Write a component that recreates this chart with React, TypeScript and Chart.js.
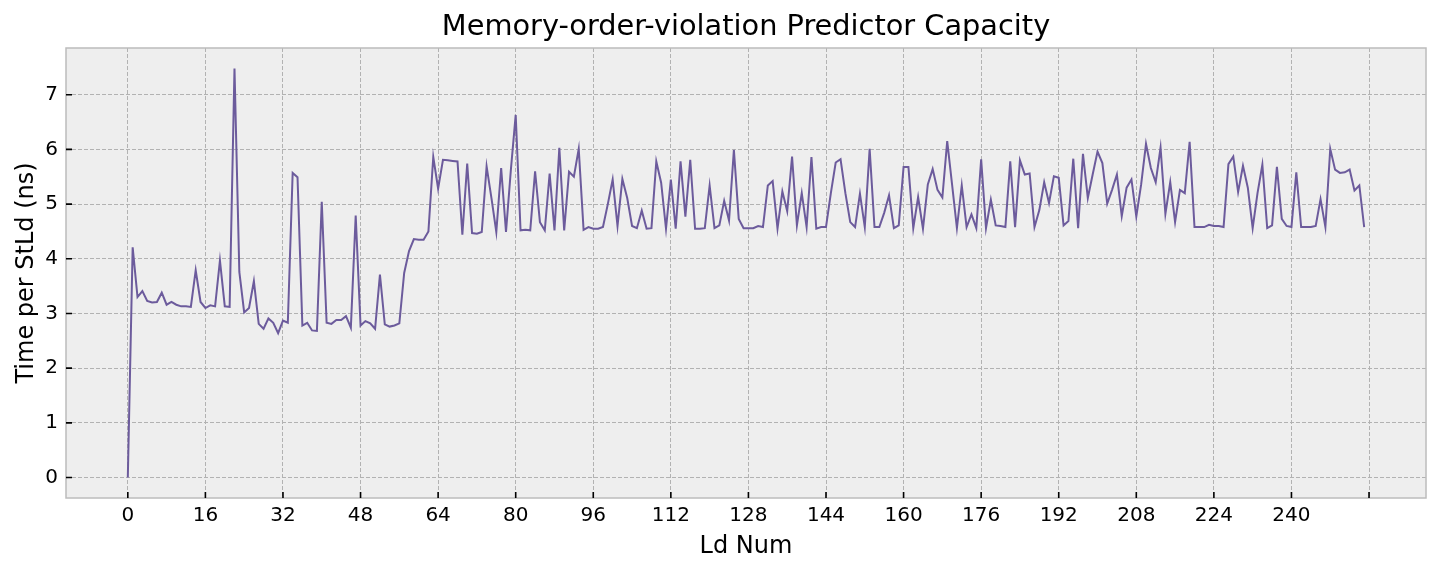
import React, { useEffect, useRef } from "react";
import { Chart, registerables } from "chart.js";

Chart.register(...registerables);

const TITLE = "Memory-order-violation Predictor Capacity";
const X_LABEL = "Ld Num";
const Y_LABEL = "Time per StLd (ns)";

const xTickValues = [0, 16, 32, 48, 64, 80, 96, 112, 128, 144, 160, 176, 192, 208, 224, 240, 256];
const xTickLabels = ["0", "16", "32", "48", "64", "80", "96", "112", "128", "144", "160", "176", "192", "208", "224", "240", ""];
const yTickValues = [0, 1, 2, 3, 4, 5, 6, 7];

// Ld 0..63
const timesA = [
  0, 4.21, 3.3, 3.41, 3.23, 3.2, 3.21, 3.38, 3.16, 3.21, 3.16, 3.13, 3.13, 3.12, 3.79, 3.21,
  3.1, 3.15, 3.13, 3.97, 3.13, 3.12, 7.48, 3.76, 3.02, 3.1, 3.59, 2.81, 2.72, 2.91, 2.83, 2.64,
  2.87, 2.83, 5.57, 5.49, 2.78, 2.83, 2.69, 2.68, 5.04, 2.83, 2.81, 2.88, 2.88, 2.95, 2.74, 4.79,
  2.78, 2.86, 2.82, 2.72, 3.71, 2.8, 2.76, 2.78, 2.82, 3.74, 4.14, 4.36, 4.35, 4.35, 4.5, 5.86,
];
// Ld 64..127
const timesB = [
  5.28, 5.81, 5.8, 5.79, 5.78, 4.44, 5.74, 4.47, 4.46, 4.49, 5.69, 5.11, 4.49, 5.66, 4.49, 5.62,
  6.63, 4.52, 4.53, 4.52, 5.6, 4.67, 4.52, 5.56, 4.52, 6.03, 4.52, 5.59, 5.5, 6.01, 4.53, 4.58,
  4.55, 4.55, 4.58, 5.0, 5.45, 4.6, 5.46, 5.11, 4.6, 4.56, 4.88, 4.55, 4.56, 5.78, 5.39, 4.55,
  5.45, 4.55, 5.78, 4.77, 5.81, 4.55, 4.55, 4.56, 5.34, 4.56, 4.61, 5.06, 4.7, 5.99, 4.73, 4.56,
];
// Ld 128..191
const timesC = [
  4.56, 4.56, 4.6, 4.58, 5.34, 5.42, 4.55, 5.23, 4.87, 5.87, 4.61, 5.2, 4.58, 5.86, 4.55, 4.58,
  4.58, 5.2, 5.76, 5.82, 5.2, 4.67, 4.58, 5.19, 4.58, 6.01, 4.58, 4.58, 4.84, 5.16, 4.56, 4.61,
  5.68, 5.68, 4.56, 5.13, 4.55, 5.36, 5.64, 5.26, 5.12, 6.15, 5.36, 4.56, 5.34, 4.58, 4.81, 4.56,
  5.82, 4.56, 5.08, 4.61, 4.6, 4.58, 5.78, 4.58, 5.8, 5.54, 5.56, 4.58, 4.89, 5.4, 5.02, 5.51,
];
// Ld 192..255
const timesD = [
  5.48, 4.61, 4.69, 5.83, 4.56, 5.92, 5.11, 5.54, 5.96, 5.75, 5.01, 5.26, 5.54, 4.78, 5.3, 5.45,
  4.77, 5.36, 6.1, 5.66, 5.4, 6.03, 4.82, 5.4, 4.67, 5.26, 5.2, 6.14, 4.58, 4.58, 4.58, 4.62,
  4.6, 4.6, 4.58, 5.73, 5.87, 5.22, 5.7, 5.3, 4.56, 5.2, 5.72, 4.56, 4.61, 5.68, 4.73, 4.6,
  4.58, 5.58, 4.58, 4.58, 4.58, 4.6, 5.09, 4.58, 6.01, 5.63, 5.57, 5.58, 5.63, 5.25, 5.34, 4.58,
];

const timePerStLd = [...timesA, ...timesB, ...timesC, ...timesD];
const ldNum = timePerStLd.map((_, i) => i);

const W = 1440;
const H = 572;
const FONT = "'DejaVu Sans', sans-serif";

export default function App() {
  const ref = useRef<HTMLCanvasElement | null>(null);

  useEffect(() => {
    if (!ref.current) return;
    const n = timePerStLd.length - 1;
    const xMargin = n * 0.05;
    const yMaxData = Math.max(...timePerStLd);
    const yMinData = Math.min(...timePerStLd);
    const yMargin = (yMaxData - yMinData) * 0.05;

    const decor = {
      id: "decor",
      beforeDraw(chart: any) {
        const { ctx, chartArea: a } = chart;
        ctx.save();
        ctx.fillStyle = "#ffffff";
        ctx.fillRect(0, 0, chart.width, chart.height);
        ctx.fillStyle = "#eeeeee";
        ctx.fillRect(a.left, a.top, a.right - a.left, a.bottom - a.top);
        ctx.restore();
      },
      afterDraw(chart: any) {
        const { ctx, chartArea: a, scales } = chart;
        ctx.save();
        // frame
        ctx.strokeStyle = "#bcbcbc";
        ctx.lineWidth = 1.5;
        ctx.strokeRect(a.left, a.top, a.right - a.left, a.bottom - a.top);
        // inward tick marks
        ctx.strokeStyle = "#000000";
        ctx.lineWidth = 1.6;
        ctx.beginPath();
        for (const v of xTickValues) {
          const px = scales.x.getPixelForValue(v);
          ctx.moveTo(px, a.bottom);
          ctx.lineTo(px, a.bottom - 6);
        }
        for (const v of yTickValues) {
          const py = scales.y.getPixelForValue(v);
          ctx.moveTo(a.left, py);
          ctx.lineTo(a.left + 6, py);
        }
        ctx.stroke();
        // texts
        ctx.fillStyle = "#000000";
        ctx.textAlign = "center";
        ctx.textBaseline = "alphabetic";
        ctx.font = `28.8px ${FONT}`;
        ctx.fillText(TITLE, (a.left + a.right) / 2, 35);
        ctx.font = `24px ${FONT}`;
        ctx.fillText(X_LABEL, (a.left + a.right) / 2, 553);
        ctx.translate(33, (a.top + a.bottom) / 2);
        ctx.rotate(-Math.PI / 2);
        ctx.fillText(Y_LABEL, 0, 0);
        ctx.restore();
      },
    };

    const chart = new Chart(ref.current, {
      type: "line",
      data: {
        datasets: [
          {
            data: ldNum.map((x, i) => ({ x, y: timePerStLd[i] })),
            borderColor: "#6c5b9c",
            borderWidth: 2,
            pointRadius: 0,
            tension: 0,
            fill: false,
          },
        ],
      },
      options: {
        responsive: false,
        animation: false,
        devicePixelRatio: 1,
        layout: { padding: { left: 0, right: W - 1426, top: 48, bottom: 0 } },
        plugins: {
          legend: { display: false },
          title: { display: false },
          tooltip: { enabled: false },
        },
        scales: {
          x: {
            type: "linear",
            min: -xMargin,
            max: n + xMargin,
            afterBuildTicks: (s: any) => {
              s.ticks = xTickValues.map((v) => ({ value: v }));
            },
            afterFit: (s: any) => {
              s.height = H - 498;
            },
            ticks: {
              autoSkip: false,
              maxRotation: 0,
              padding: 6,
              color: "#000000",
              font: { family: FONT, size: 20 },
              callback: (v: any) => {
                const idx = xTickValues.indexOf(Number(v));
                return idx >= 0 ? xTickLabels[idx] : "";
              },
            },
            grid: { color: "#b2b2b2", lineWidth: 1, drawTicks: false },
            border: { display: false, dash: [4, 2] },
          },
          y: {
            type: "linear",
            min: yMinData - yMargin,
            max: yMaxData + yMargin,
            afterBuildTicks: (s: any) => {
              s.ticks = yTickValues.map((v) => ({ value: v }));
            },
            afterFit: (s: any) => {
              s.width = 66;
            },
            ticks: {
              padding: 8,
              color: "#000000",
              font: { family: FONT, size: 20 },
              callback: (v: any) => String(v),
            },
            grid: { color: "#b2b2b2", lineWidth: 1, drawTicks: false },
            border: { display: false, dash: [4, 2] },
          },
        },
      },
      plugins: [decor],
    } as any);

    return () => chart.destroy();
  }, []);

  return (
    <div style={{ position: "fixed", left: 0, top: 0, width: W, height: H, background: "#ffffff" }}>
      <canvas ref={ref} width={W} height={H} style={{ width: W, height: H, display: "block" }} />
    </div>
  );
}
